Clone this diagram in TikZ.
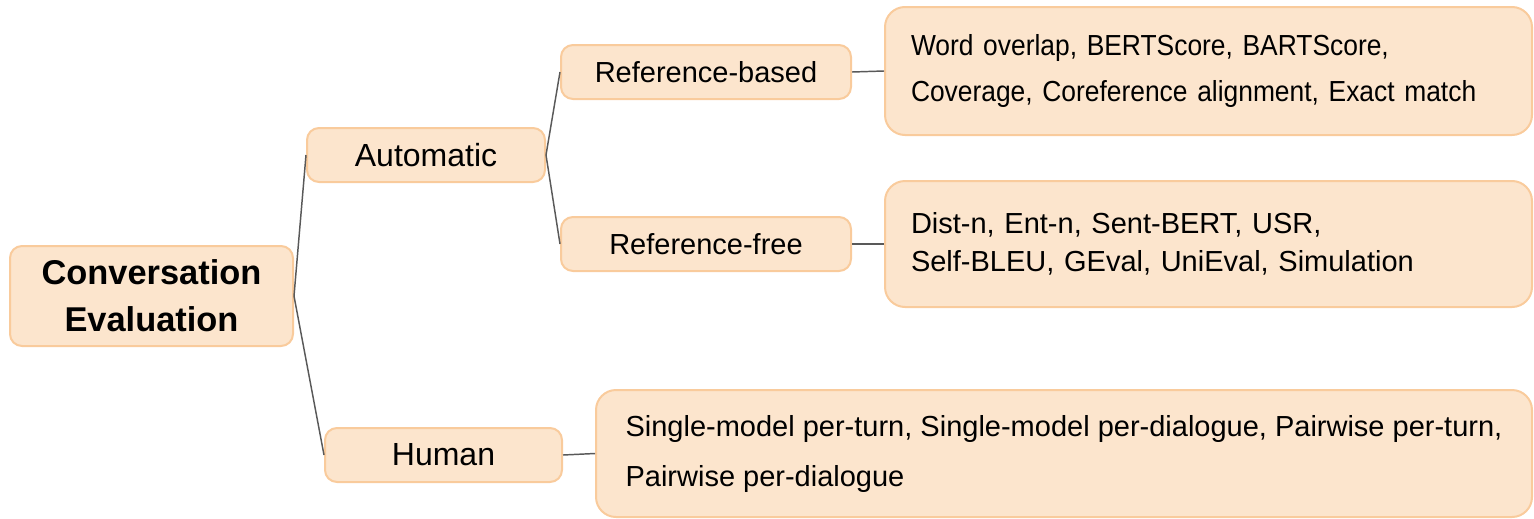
\documentclass[tikz,border=0pt]{standalone}
\usepackage{fontspec}
\setmainfont{Liberation Sans}
\newfontfamily\narrowfont[FakeStretch=0.91]{Liberation Sans}
\definecolor{boxfill}{HTML}{FCE5CD}
\definecolor{boxline}{HTML}{F9CB9C}
\definecolor{linkgray}{HTML}{595959}
\begin{document}
\begin{tikzpicture}[
        x=0.75pt, y=-0.75pt,
        box/.style={rectangle, rounded corners=9pt, draw=boxline, line width=1.5pt, fill=boxfill, inner sep=0pt, align=center},
        rootbox/.style={box, minimum width=212.25pt, minimum height=75pt, font=\fontsize{25.8}{35}\selectfont\bfseries},
        midbox/.style={box, minimum width=178.5pt, minimum height=40.5pt, font=\fontsize{24}{28}\selectfont},
        subbox/.style={box, minimum width=217.5pt, minimum height=40.5pt, font=\fontsize{21.75}{26}\selectfont},
        leaf/.style={box, rounded corners=15pt, align=left, inner xsep=19.5pt, minimum width=485.25pt},
        link/.style={draw=linkgray, line width=1.1pt}
    ]
    \useasboundingbox (0,0) rectangle (1534,518);

    % Raiz
    \node[rootbox] (root) at (151.5,296) {Conversation\\Evaluation};

    % Primeiro nível
    \node[midbox] (auto) at (426,155) {Automatic};
    \node[midbox, minimum width=177.75pt] (human) at (443.5,455) {Human};

    % Segundo nível
    \node[subbox] (refbased) at (706,72) {Reference-based};
    \node[subbox] (reffree) at (706,244) {Reference-free};

    % Folhas
    \node[leaf, minimum height=96pt, text width=446.25pt, font=\narrowfont\fontsize{21.75}{33.75}\selectfont] (rbleaf) at (1208.5,71)
        {Word overlap, BERTScore, BARTScore,\\Coverage, Coreference alignment, Exact match};
    \node[leaf, minimum height=94.5pt, text width=446.25pt, font=\fontsize{21.75}{28.5}\selectfont] (rfleaf) at (1208.5,244)
        {Dist-n, Ent-n, Sent-BERT, USR,\\Self-BLEU, GEval, UniEval, Simulation};
    \node[leaf, minimum height=95.25pt, minimum width=702pt, font=\fontsize{21.75}{37.5}\selectfont] (humanleaf) at (1064,453.5)
        {Single-model per-turn, Single-model per-dialogue, Pairwise per-turn,\\Pairwise per-dialogue};

    % Ligações
    \draw[link] (root.east) -- (auto.west);
    \draw[link] (root.east) -- (human.west);
    \draw[link] (auto.east) -- (refbased.west);
    \draw[link] (auto.east) -- (reffree.west);
    \draw[link] (refbased.east) -- (rbleaf.west);
    \draw[link] (reffree.east) -- (rfleaf.west);
    \draw[link] (human.east) -- (humanleaf.west);

\end{tikzpicture}
\end{document}
